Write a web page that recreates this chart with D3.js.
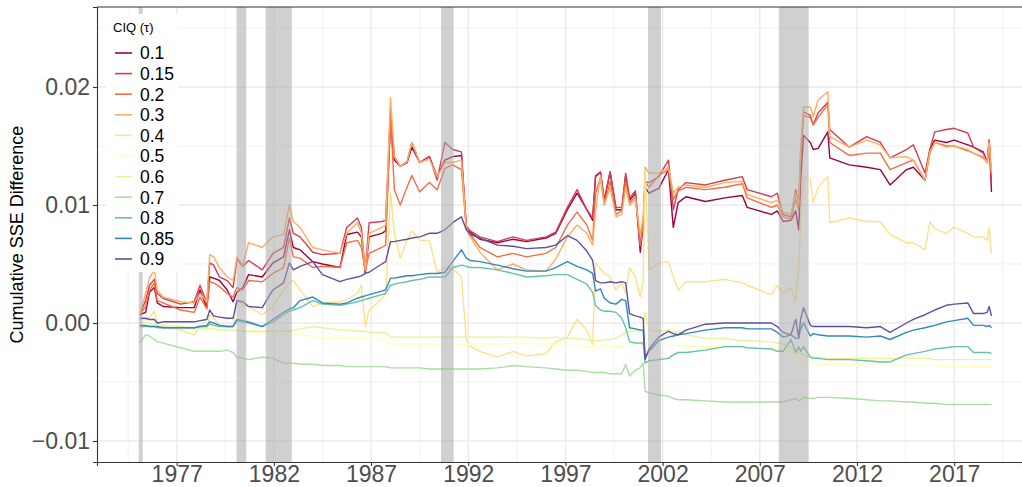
<!DOCTYPE html>
<html><head><meta charset="utf-8">
<script src="https://cdn.jsdelivr.net/npm/d3@7"></script>
<style>body{margin:0;background:#fff}svg{display:block}text{font-family:"Liberation Sans",Arial,sans-serif}</style>
</head><body><svg id="chart" width="1022" height="487"></svg>
<script>
// ---- data (decimal years; cumulative SSE difference) ----
const dates = [1975.1,1975.4,1975.6,1975.85,1976.0,1976.3,1977.2,1977.9,1978.2,1978.55,1978.7,1978.9,1979.2,1979.6,1979.9,1980.1,1980.4,1980.7,1981.4,1981.95,1982.5,1982.8,1983.0,1983.35,1984.0,1984.5,1985.4,1985.75,1986.3,1986.5,1986.7,1986.9,1987.55,1987.75,1988.0,1988.2,1988.5,1988.85,1989.1,1989.5,1990.0,1990.4,1990.8,1991.2,1991.65,1991.9,1992.1,1992.6,1993.5,1994.3,1995.0,1996.0,1996.5,1997.1,1997.6,1998.1,1998.4,1998.55,1998.8,1999.0,1999.3,1999.6,1999.9,2000.1,2000.3,2000.6,2000.85,2001.0,2001.1,2001.3,2001.8,2002.3,2002.55,2002.8,2003.2,2004.2,2005.2,2006.1,2006.35,2007.6,2007.9,2008.2,2008.6,2008.85,2009.0,2009.1,2009.25,2009.6,2009.75,2010.0,2010.5,2010.6,2011.6,2012.5,2013.2,2013.7,2014.55,2014.9,2015.5,2015.75,2016.0,2016.6,2017.0,2017.7,2018.0,2018.5,2018.7,2018.8,2018.92];

const s010 = [0.0007,0.0009,0.0026,0.0030,0.0017,0.0014,0.0013,0.0013,0.0028,0.0013,0.0039,0.0038,0.0036,0.0028,0.0018,0.0026,0.0030,0.0041,0.0039,0.0051,0.0056,0.0079,0.0064,0.0062,0.0052,0.0050,0.0047,0.0075,0.0077,0.0073,0.0042,0.0073,0.0076,0.0078,0.0169,0.0138,0.0133,0.0136,0.0149,0.0136,0.0141,0.0124,0.0138,0.0141,0.0142,0.0081,0.0077,0.0071,0.0068,0.0071,0.0069,0.0072,0.0076,0.0096,0.0110,0.0096,0.0087,0.0124,0.0128,0.0104,0.0128,0.0096,0.0096,0.0125,0.0104,0.0110,0.0060,0.0083,0.0115,0.0110,0.0114,0.0130,0.0081,0.0102,0.0107,0.0103,0.0106,0.0108,0.0098,0.0092,0.0095,0.0086,0.0087,0.0095,0.0079,0.0120,0.0159,0.0153,0.0147,0.0148,0.0162,0.0140,0.0134,0.0132,0.0130,0.0117,0.0130,0.0132,0.0121,0.0147,0.0155,0.0153,0.0155,0.0151,0.0149,0.0145,0.0136,0.0155,0.0111];
const s015 = [0.0007,0.0019,0.0032,0.0037,0.0025,0.0021,0.0016,0.0018,0.0032,0.0017,0.0051,0.0049,0.0039,0.0036,0.0030,0.0054,0.0048,0.0053,0.0045,0.0059,0.0064,0.0089,0.0076,0.0073,0.0060,0.0058,0.0059,0.0081,0.0089,0.0081,0.0045,0.0085,0.0086,0.0087,0.0181,0.0141,0.0133,0.0136,0.0153,0.0136,0.0141,0.0121,0.0153,0.0147,0.0145,0.0082,0.0078,0.0073,0.0069,0.0073,0.0070,0.0073,0.0077,0.0098,0.0113,0.0096,0.0089,0.0125,0.0128,0.0104,0.0128,0.0098,0.0098,0.0127,0.0106,0.0112,0.0065,0.0085,0.0120,0.0119,0.0124,0.0138,0.0096,0.0113,0.0119,0.0117,0.0121,0.0124,0.0113,0.0107,0.0110,0.0092,0.0090,0.0113,0.0100,0.0140,0.0179,0.0176,0.0168,0.0178,0.0187,0.0164,0.0149,0.0158,0.0153,0.0140,0.0147,0.0151,0.0127,0.0147,0.0162,0.0164,0.0165,0.0161,0.0149,0.0144,0.0136,0.0155,0.0120];
const s020 = [0.0007,0.0014,0.0028,0.0034,0.0019,0.0017,0.0011,0.0009,0.0022,0.0012,0.0035,0.0034,0.0031,0.0025,0.0022,0.0030,0.0028,0.0036,0.0035,0.0042,0.0047,0.0072,0.0056,0.0055,0.0047,0.0048,0.0047,0.0068,0.0070,0.0064,0.0044,0.0059,0.0064,0.0066,0.0175,0.0113,0.0100,0.0115,0.0125,0.0111,0.0119,0.0113,0.0131,0.0134,0.0130,0.0080,0.0075,0.0064,0.0056,0.0059,0.0056,0.0059,0.0064,0.0083,0.0094,0.0083,0.0070,0.0110,0.0123,0.0100,0.0120,0.0092,0.0095,0.0120,0.0102,0.0107,0.0066,0.0085,0.0120,0.0115,0.0125,0.0130,0.0105,0.0112,0.0115,0.0113,0.0115,0.0118,0.0106,0.0098,0.0100,0.0090,0.0088,0.0105,0.0096,0.0140,0.0176,0.0174,0.0168,0.0174,0.0185,0.0153,0.0142,0.0144,0.0144,0.0130,0.0136,0.0138,0.0121,0.0144,0.0153,0.0150,0.0150,0.0146,0.0144,0.0140,0.0136,0.0155,0.0125];
const s030 = [0.0007,0.0025,0.0038,0.0045,0.0028,0.0022,0.0018,0.0017,0.0025,0.0018,0.0058,0.0056,0.0047,0.0039,0.0036,0.0056,0.0049,0.0068,0.0064,0.0073,0.0075,0.0100,0.0086,0.0081,0.0064,0.0062,0.0059,0.0076,0.0085,0.0076,0.0045,0.0076,0.0081,0.0083,0.0191,0.0141,0.0133,0.0137,0.0153,0.0136,0.0139,0.0124,0.0136,0.0136,0.0138,0.0081,0.0073,0.0060,0.0045,0.0050,0.0045,0.0044,0.0054,0.0073,0.0083,0.0076,0.0066,0.0095,0.0125,0.0100,0.0115,0.0090,0.0092,0.0115,0.0100,0.0105,0.0075,0.0090,0.0132,0.0127,0.0127,0.0132,0.0110,0.0115,0.0117,0.0115,0.0119,0.0120,0.0109,0.0102,0.0104,0.0094,0.0092,0.0110,0.0100,0.0149,0.0183,0.0183,0.0175,0.0189,0.0196,0.0158,0.0149,0.0155,0.0151,0.0140,0.0141,0.0138,0.0121,0.0145,0.0153,0.0149,0.0150,0.0147,0.0144,0.0141,0.0136,0.0153,0.0128];
const s040 = [0.0003,0.0003,0.0005,0.0010,0.0000,-0.0003,-0.0006,-0.0010,-0.0003,-0.0005,0.0007,0.0005,-0.0002,-0.0003,-0.0003,0.0020,0.0015,0.0014,0.0007,0.0014,0.0028,0.0034,0.0036,0.0028,0.0014,0.0017,0.0018,0.0020,0.0025,0.0032,-0.0003,0.0011,0.0020,0.0025,0.0110,0.0076,0.0055,0.0070,0.0078,0.0070,0.0070,0.0043,0.0047,0.0046,0.0039,-0.0014,-0.0020,-0.0024,-0.0029,-0.0024,-0.0028,-0.0026,-0.0016,-0.0012,0.0003,-0.0006,-0.0018,0.0051,0.0046,0.0042,0.0039,0.0028,0.0034,0.0025,0.0047,0.0039,0.0022,0.0035,0.0130,0.0045,0.0051,0.0052,0.0039,0.0028,0.0035,0.0035,0.0037,0.0034,0.0032,0.0024,0.0032,0.0025,0.0030,0.0018,0.0047,0.0087,0.0124,0.0121,0.0102,0.0115,0.0124,0.0085,0.0089,0.0086,0.0086,0.0075,0.0068,0.0068,0.0062,0.0086,0.0080,0.0076,0.0081,0.0076,0.0073,0.0073,0.0070,0.0081,0.0059];
const s050 = [0.0000,0.0000,-0.0001,-0.0001,-0.0002,-0.0002,-0.0004,-0.0005,-0.0005,-0.0005,-0.0005,-0.0006,-0.0006,-0.0007,-0.0007,-0.0007,-0.0007,-0.0008,-0.0008,-0.0008,-0.0009,-0.0009,-0.0010,-0.0010,-0.0011,-0.0013,-0.0013,-0.0013,-0.0013,-0.0013,-0.0013,-0.0014,-0.0014,-0.0014,-0.0018,-0.0018,-0.0018,-0.0018,-0.0018,-0.0018,-0.0018,-0.0018,-0.0018,-0.0018,-0.0018,-0.0018,-0.0018,-0.0018,-0.0018,-0.0017,-0.0017,-0.0018,-0.0018,-0.0019,-0.0019,-0.0020,-0.0020,-0.0020,-0.0020,-0.0020,-0.0020,-0.0020,-0.0020,-0.0019,-0.0019,-0.0019,-0.0018,-0.0018,-0.0018,-0.0019,-0.0019,-0.0019,-0.0019,-0.0019,-0.0020,-0.0020,-0.0020,-0.0021,-0.0021,-0.0021,-0.0022,-0.0023,-0.0024,-0.0026,-0.0030,-0.0032,-0.0033,-0.0034,-0.0034,-0.0035,-0.0035,-0.0035,-0.0035,-0.0036,-0.0036,-0.0036,-0.0036,-0.0036,-0.0036,-0.0036,-0.0036,-0.0037,-0.0037,-0.0037,-0.0037,-0.0037,-0.0037,-0.0037,-0.0037];
const s060 = [0.0000,0.0000,0.0000,-0.0001,-0.0001,-0.0002,-0.0003,-0.0004,-0.0005,-0.0005,-0.0005,-0.0005,-0.0006,-0.0006,-0.0006,-0.0006,-0.0007,-0.0007,-0.0007,-0.0007,-0.0007,-0.0007,-0.0006,-0.0005,-0.0003,-0.0004,-0.0006,-0.0006,-0.0007,-0.0007,-0.0007,-0.0008,-0.0008,-0.0008,-0.0012,-0.0012,-0.0012,-0.0012,-0.0012,-0.0012,-0.0012,-0.0012,-0.0012,-0.0012,-0.0012,-0.0012,-0.0012,-0.0012,-0.0012,-0.0012,-0.0012,-0.0013,-0.0012,-0.0013,-0.0013,-0.0014,-0.0015,-0.0015,-0.0015,-0.0014,-0.0014,-0.0013,-0.0010,-0.0008,-0.0007,-0.0007,-0.0006,-0.0006,0.0009,-0.0006,-0.0007,-0.0006,-0.0007,-0.0008,-0.0010,-0.0013,-0.0013,-0.0015,-0.0015,-0.0016,-0.0017,-0.0018,-0.0021,-0.0023,-0.0025,-0.0026,-0.0027,-0.0029,-0.0029,-0.0029,-0.0030,-0.0030,-0.0030,-0.0030,-0.0030,-0.0030,-0.0030,-0.0030,-0.0030,-0.0030,-0.0031,-0.0031,-0.0031,-0.0031,-0.0031,-0.0031,-0.0031,-0.0031,-0.0031];
const s070 = [-0.0017,-0.0010,-0.0011,-0.0014,-0.0016,-0.0017,-0.0021,-0.0024,-0.0024,-0.0024,-0.0024,-0.0024,-0.0024,-0.0023,-0.0025,-0.0029,-0.0030,-0.0031,-0.0029,-0.0030,-0.0034,-0.0034,-0.0034,-0.0035,-0.0035,-0.0036,-0.0036,-0.0037,-0.0037,-0.0037,-0.0037,-0.0037,-0.0037,-0.0037,-0.0038,-0.0038,-0.0038,-0.0038,-0.0038,-0.0038,-0.0039,-0.0039,-0.0039,-0.0039,-0.0039,-0.0039,-0.0039,-0.0039,-0.0038,-0.0036,-0.0037,-0.0038,-0.0039,-0.0040,-0.0040,-0.0041,-0.0042,-0.0042,-0.0042,-0.0042,-0.0043,-0.0043,-0.0043,-0.0035,-0.0045,-0.0040,-0.0038,-0.0034,-0.0058,-0.0059,-0.0061,-0.0062,-0.0064,-0.0065,-0.0065,-0.0066,-0.0067,-0.0067,-0.0067,-0.0067,-0.0067,-0.0067,-0.0065,-0.0064,-0.0066,-0.0065,-0.0063,-0.0064,-0.0064,-0.0063,-0.0063,-0.0063,-0.0064,-0.0065,-0.0066,-0.0066,-0.0067,-0.0067,-0.0068,-0.0068,-0.0068,-0.0069,-0.0069,-0.0069,-0.0069,-0.0069,-0.0069,-0.0069,-0.0069];
const s080 = [-0.0003,-0.0003,-0.0003,-0.0003,-0.0004,-0.0004,-0.0004,-0.0004,-0.0003,-0.0003,-0.0001,-0.0002,-0.0003,-0.0003,-0.0003,0.0002,0.0001,0.0000,-0.0003,0.0001,0.0007,0.0010,0.0011,0.0013,0.0019,0.0016,0.0015,0.0016,0.0018,0.0019,0.0020,0.0021,0.0024,0.0025,0.0032,0.0033,0.0034,0.0035,0.0036,0.0037,0.0039,0.0039,0.0039,0.0047,0.0049,0.0048,0.0047,0.0047,0.0045,0.0042,0.0039,0.0040,0.0041,0.0041,0.0037,0.0033,0.0026,0.0015,0.0011,0.0010,0.0010,0.0009,0.0004,-0.0004,-0.0016,-0.0017,-0.0017,-0.0017,-0.0034,-0.0032,-0.0031,-0.0030,-0.0027,-0.0025,-0.0025,-0.0023,-0.0020,-0.0020,-0.0021,-0.0022,-0.0024,-0.0024,-0.0014,-0.0025,-0.0020,-0.0024,-0.0020,-0.0029,-0.0030,-0.0030,-0.0031,-0.0031,-0.0031,-0.0032,-0.0033,-0.0033,-0.0027,-0.0026,-0.0024,-0.0023,-0.0022,-0.0021,-0.0020,-0.0020,-0.0025,-0.0025,-0.0025,-0.0025,-0.0026];
const s085 = [-0.0002,-0.0002,-0.0003,-0.0003,-0.0003,-0.0004,-0.0004,-0.0004,-0.0003,-0.0002,0.0001,0.0000,-0.0002,-0.0003,-0.0003,0.0003,0.0002,0.0001,-0.0003,0.0003,0.0009,0.0012,0.0013,0.0019,0.0022,0.0017,0.0016,0.0017,0.0021,0.0022,0.0023,0.0024,0.0027,0.0028,0.0038,0.0038,0.0039,0.0040,0.0040,0.0041,0.0042,0.0042,0.0043,0.0052,0.0062,0.0055,0.0053,0.0052,0.0049,0.0046,0.0044,0.0044,0.0047,0.0052,0.0048,0.0045,0.0042,0.0027,0.0029,0.0021,0.0017,0.0016,0.0020,0.0019,-0.0004,-0.0005,-0.0006,-0.0006,-0.0029,-0.0024,-0.0015,-0.0012,-0.0011,-0.0010,-0.0009,-0.0006,-0.0004,-0.0004,-0.0005,-0.0005,-0.0008,-0.0012,-0.0010,-0.0013,-0.0013,-0.0005,0.0000,-0.0011,-0.0009,-0.0010,-0.0011,-0.0011,-0.0011,-0.0012,-0.0011,-0.0014,-0.0008,-0.0006,-0.0004,-0.0003,-0.0002,0.0001,0.0002,0.0004,-0.0002,-0.0002,-0.0003,-0.0002,-0.0004];
const s090 = [0.0004,0.0004,0.0003,0.0003,0.0000,0.0001,0.0001,0.0001,0.0002,0.0003,0.0011,0.0006,0.0005,0.0004,0.0004,0.0019,0.0018,0.0014,0.0013,0.0028,0.0034,0.0051,0.0045,0.0048,0.0052,0.0041,0.0035,0.0037,0.0039,0.0040,0.0042,0.0043,0.0050,0.0052,0.0069,0.0069,0.0070,0.0071,0.0072,0.0073,0.0076,0.0076,0.0079,0.0085,0.0090,0.0079,0.0075,0.0072,0.0066,0.0065,0.0063,0.0064,0.0066,0.0074,0.0070,0.0061,0.0053,0.0036,0.0034,0.0034,0.0035,0.0034,0.0035,0.0034,0.0008,0.0006,0.0005,0.0004,-0.0031,-0.0022,-0.0012,-0.0007,-0.0009,-0.0010,-0.0006,-0.0001,0.0000,0.0000,0.0000,0.0000,-0.0003,-0.0008,-0.0010,0.0003,-0.0012,0.0003,0.0013,-0.0002,-0.0003,-0.0003,-0.0003,-0.0003,-0.0003,-0.0004,-0.0003,-0.0008,0.0000,0.0003,0.0007,0.0009,0.0011,0.0015,0.0016,0.0017,0.0008,0.0008,0.0009,0.0014,0.0006];

const taus = ["0.1","0.15","0.2","0.3","0.4","0.5","0.6","0.7","0.8","0.85","0.9"];
const seriesValues = [s010,s015,s020,s030,s040,s050,s060,s070,s080,s085,s090];
const colors = ["#9E0142","#D53E4F","#F46D43","#FDAE61","#FEE08B","#FFFFBF","#E6F598","#ABDDA4","#66C2A5","#3288BD","#5E4FA2"];
const recessions = [[1975.05,1975.25],[1980.08,1980.58],[1981.58,1982.92],[1990.6,1991.25],[2001.25,2001.92],[2007.98,2009.5]];
const xTicks = [1977,1982,1987,1992,1997,2002,2007,2012,2017];
const xMinor = [1974.5,1979.5,1984.5,1989.5,1994.5,1999.5,2004.5,2009.5,2014.5,2019.5];
const yTicks = [-0.01,0,0.01,0.02];
const yMinor = [-0.005,0.005,0.015,0.025];

// ---- layout ----
const svg = d3.select("#chart");
const L = 97, R = 1022, T = 7, B = 462;
const x = d3.scaleLinear().domain([1972.9, 2020.49]).range([L, R]);
const y = d3.scaleLinear().domain([-0.01178, 0.02678]).range([B, T]);

svg.append("defs").append("clipPath").attr("id","clip")
  .append("rect").attr("x",L).attr("y",T).attr("width",R-L).attr("height",B-T);

const grid = svg.append("g");
grid.selectAll(".ym").data(yMinor).join("line").attr("x1",L).attr("x2",R)
  .attr("y1",d=>y(d)).attr("y2",d=>y(d)).attr("stroke","#F2F2F2").attr("stroke-width",1);
grid.selectAll(".xm").data(xMinor).join("line").attr("y1",T).attr("y2",B)
  .attr("x1",d=>x(d)).attr("x2",d=>x(d)).attr("stroke","#F2F2F2").attr("stroke-width",1);
grid.selectAll(".yM").data(yTicks).join("line").attr("x1",L).attr("x2",R)
  .attr("y1",d=>y(d)).attr("y2",d=>y(d)).attr("stroke","#EBEBEB").attr("stroke-width",1.4);
grid.selectAll(".xM").data(xTicks).join("line").attr("y1",T).attr("y2",B)
  .attr("x1",d=>x(d)).attr("x2",d=>x(d)).attr("stroke","#EBEBEB").attr("stroke-width",1.4);

const plot = svg.append("g").attr("clip-path","url(#clip)");
const line = d3.line().x((d,i)=>x(dates[i])).y(d=>y(d));
seriesValues.forEach((vals,k)=>{
  plot.append("path").datum(vals).attr("d",line).attr("fill","none")
    .attr("stroke",colors[k]).attr("stroke-width",1.4).attr("stroke-linejoin","round");
});
plot.selectAll(".rec").data(recessions).join("rect")
  .attr("x",d=>x(d[0])).attr("width",d=>x(d[1])-x(d[0]))
  .attr("y",T).attr("height",B-T).attr("fill","#A9A9A9").attr("opacity",0.55);

// axes
const xAxis = svg.append("g").attr("transform",`translate(0,${B})`)
  .call(d3.axisBottom(x).tickValues(xTicks).tickFormat(d3.format("d")).tickSize(4).tickPadding(2));
xAxis.selectAll(".tick text").attr("dy",null).attr("y",20);
const yAxis = svg.append("g").attr("transform",`translate(${L},0)`)
  .call(d3.axisLeft(y).tickValues(yTicks).tickFormat(d=>d===0?"0.00":d3.format(".2f")(d).replace("-","\u2212")).tickSize(4).tickPadding(3));
[xAxis,yAxis].forEach(a=>{
  a.select(".domain").attr("stroke","#333").attr("stroke-width",1.1);
  a.selectAll(".tick line").attr("stroke","#333").attr("stroke-width",1.1);
  a.selectAll(".tick text").attr("fill","#4D4D4D").style("font-size","23px");
});
svg.append("line").attr("x1",L).attr("x2",R).attr("y1",T).attr("y2",T).attr("stroke","#333").attr("stroke-width",1.1);

svg.append("text").attr("transform",`translate(23,${(T+B)/2}) rotate(-90)`)
  .attr("text-anchor","middle").style("font-size","18px").attr("fill","#000")
  .text("Cumulative SSE Difference");

// legend
const lg = svg.append("g");
lg.append("rect").attr("x",106).attr("y",14).attr("width",72).attr("height",258).attr("fill","#fff");
lg.append("text").attr("x",113).attr("y",32).style("font-size","13px").attr("fill","#000").text("CIQ (\u03C4)");
taus.forEach((t,i)=>{
  const yy = 53 + i*20.6;
  lg.append("line").attr("x1",115).attr("x2",132).attr("y1",yy).attr("y2",yy)
    .attr("stroke",colors[i]).attr("stroke-width",1.6);
  lg.append("text").attr("x",140).attr("y",yy).attr("dy","0.36em")
    .style("font-size","17.5px").attr("fill","#000").text(t);
});
</script></body></html>
